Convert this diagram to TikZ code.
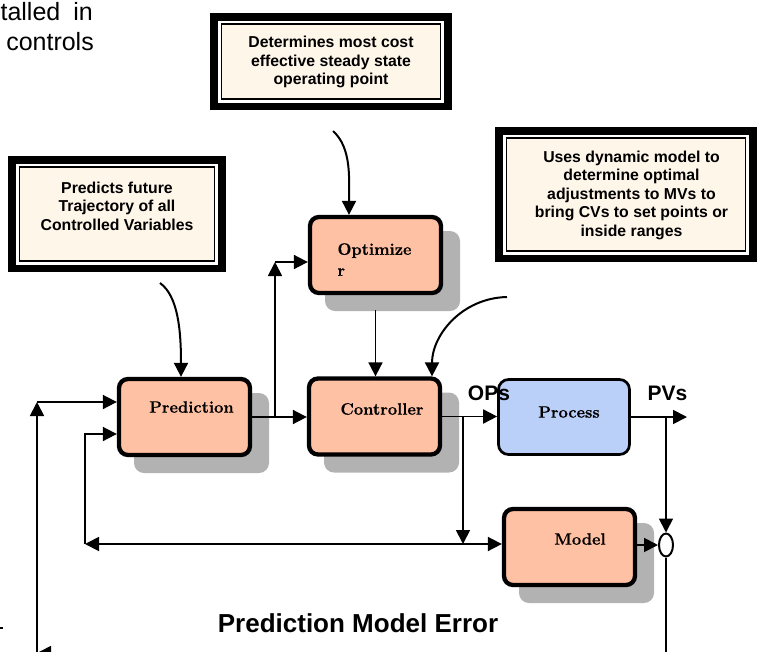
\documentclass[tikz,border=0pt]{standalone}
\usepackage{fontspec}
\newfontfamily\arialf{Liberation Sans}
\newfontfamily\boxfont[BoldFeatures={FakeBold=0.6}]{Latin Modern Roman}
\usetikzlibrary{arrows.meta,shapes.geometric}
\definecolor{salmon}{HTML}{FFC1A4}
\definecolor{procblue}{HTML}{BAD0F8}
\definecolor{shadowgray}{HTML}{B2B2B2}
\definecolor{cream}{HTML}{FFF6EA}
\pgfdeclarelayer{shadowlayer}
\pgfdeclarelayer{connlayer}
\pgfsetlayers{shadowlayer,connlayer,main}
\newcommand\noteframe[4]{%
  \fill[black] (#1,#2) rectangle (#3,#4);
  \fill[white] ({#1+8},{#2+7.5}) rectangle ({#3-8},{#4-7.5});
  \draw[line width=1.6pt, fill=cream] ({#1+11.5},{#2+11}) rectangle ({#3-11.5},{#4-11});
}
\begin{document}
\begin{tikzpicture}[x=1pt,y=-1pt,
  box/.style={draw=black, line width=4.3pt, rounded corners=9pt, fill=salmon,
    minimum width=131pt, minimum height=76pt, inner sep=0pt},
  shadowbox/.style={fill=shadowgray, rounded corners=10pt, draw=none,
    minimum width=135pt, minimum height=80pt, inner sep=0pt},
  boxtext/.style={font=\boxfont\bfseries\fontsize{16.5}{21}\selectfont, inner sep=0pt, align=left},
  notetext/.style={font=\arialf\bfseries\fontsize{15.8}{18.5}\selectfont, align=center, inner sep=0pt},
  conn/.style={line width=1.8pt, -{Triangle[length=14pt,width=14pt]}},
  curvearrow/.style={line width=2pt, -{Triangle[length=14pt,width=14pt]}},
  biglabel/.style={font=\arialf\bfseries\fontsize{21}{21}\selectfont, inner sep=0pt},
  fragtext/.style={font=\arialf\fontsize{25}{29}\selectfont, anchor=base east, inner sep=0pt}
]
\useasboundingbox (0,0) rectangle (760,651);

% fragment of surrounding text
\node[fragtext] (frag1) at (93,20) {talled\hspace{13pt}in};
\node[fragtext] (frag2) at (94,50) {controls};
\fill[black] (0,627.3) rectangle (3,628.7);

% note boxes
\noteframe{210}{13}{452}{110}
\node[notetext] (noteopt) at (331,62) {Determines most cost\\effective steady state\\operating point};
\noteframe{8}{156}{226}{272}
\node[notetext] (notepred) at (117,206) {Predicts future\\Trajectory of all\\Controlled Variables};
\noteframe{495}{127}{757}{262}
\node[notetext] (notectrl) at (631.5,195) {Uses dynamic model to\\determine optimal\\adjustments to MVs to\\bring CVs to set points or\\inside ranges};

% shadows
\begin{pgfonlayer}{shadowlayer}
\node[shadowbox] (predS) at (201.5,433) {};
\node[shadowbox] (optS) at (392.5,271) {};
\node[shadowbox] (ctrlS) at (391.5,432.5) {};
\node[shadowbox] (modS) at (586.5,563) {};
\end{pgfonlayer}

% boxes
\node[box] (pred) at (184.5,417) {};
\node[boxtext] (predT) at (191.5,407) {Prediction};
\node[box] (opt) at (375.5,255) {};
\node[boxtext] (optT) at (374.5,259.5) {Optimize\\r};
\node[box] (ctrl) at (374.5,416.5) {};
\node[boxtext] (ctrlT) at (382,409) {Controller};
\node[draw=black, line width=2.7pt, rounded corners=10pt, fill=procblue,
  minimum width=131pt, minimum height=75pt, inner sep=0pt] (proc) at (564,417) {};
\node[boxtext] (procT) at (569,412) {Process};
\node[box] (model) at (569.5,547) {};
\node[boxtext] (modelT) at (580,539) {Model};
\node[draw=black, line width=2pt, fill=white, ellipse, minimum width=14pt,
  minimum height=23pt, inner sep=0pt] (sum) at (666,545) {};

% labels
\node[biglabel] (ops) at (489,393) {OPs};
\node[biglabel] (pvs) at (667.5,393) {PVs};
\node[font=\arialf\bfseries\fontsize{26}{26}\selectfont, inner sep=0pt] (pme) at (358,623) {Prediction Model Error};

% connectors
\begin{pgfonlayer}{connlayer}
\coordinate (j1) at (275,417);
\coordinate (j2) at (275,262);
\coordinate (j3) at (463,417);
\coordinate (j4) at (463,544);
\coordinate (j5) at (85,544);
\coordinate (j6) at (85,434);
\coordinate (j7) at (37,402);
\coordinate (j8) at (666,417);
\coordinate (pv) at (687,417);
\coordinate (br) at (666,653);
\coordinate (bl) at (37,653);
\coordinate (c1) at (333,131);
\coordinate (c2) at (160,283);
\coordinate (c3) at (507,297);

\draw[conn] (pred.east) -- (pred.east -| ctrl.west);
\draw[conn] (j1) -- (j2);
\draw[conn] (j2) -- (j2 -| opt.west);
\draw[conn] ([yshift=-15pt]opt.south) -- (opt.south |- ctrl.north);
\draw[conn] (ctrl.east) -- (ctrl.east -| proc.west);
\draw[conn] (j3) -- (j4);
\draw[line width=1.8pt, {Triangle[length=14pt,width=14pt]}-{Triangle[length=14pt,width=14pt]}] (j5) -- (j5 -| model.west);
\draw[conn] (j5) -- (j6) -- (j6 -| pred.west);
\draw[conn] (proc.east) -- (pv);
\draw[conn] (j8) -- (sum.north);
\draw[conn] (sum.west -| model.east) -- (sum.west);
\draw[conn] (sum.south) -- (br) -- (bl);
\draw[conn] (bl) -- (j7);
\draw[conn] (j7) -- (j7 -| pred.west);

\draw[curvearrow] (c1) .. controls (352,148) and (349,180) .. ([xshift=-26.5pt]opt.north);
\draw[curvearrow] (c2) .. controls (178,296) and (181,330) .. ([xshift=-3.5pt]pred.north);
\draw[curvearrow] (c3) .. controls (462,298) and (432,335) .. ([xshift=57.5pt]ctrl.north);
\end{pgfonlayer}
\end{tikzpicture}
\end{document}
